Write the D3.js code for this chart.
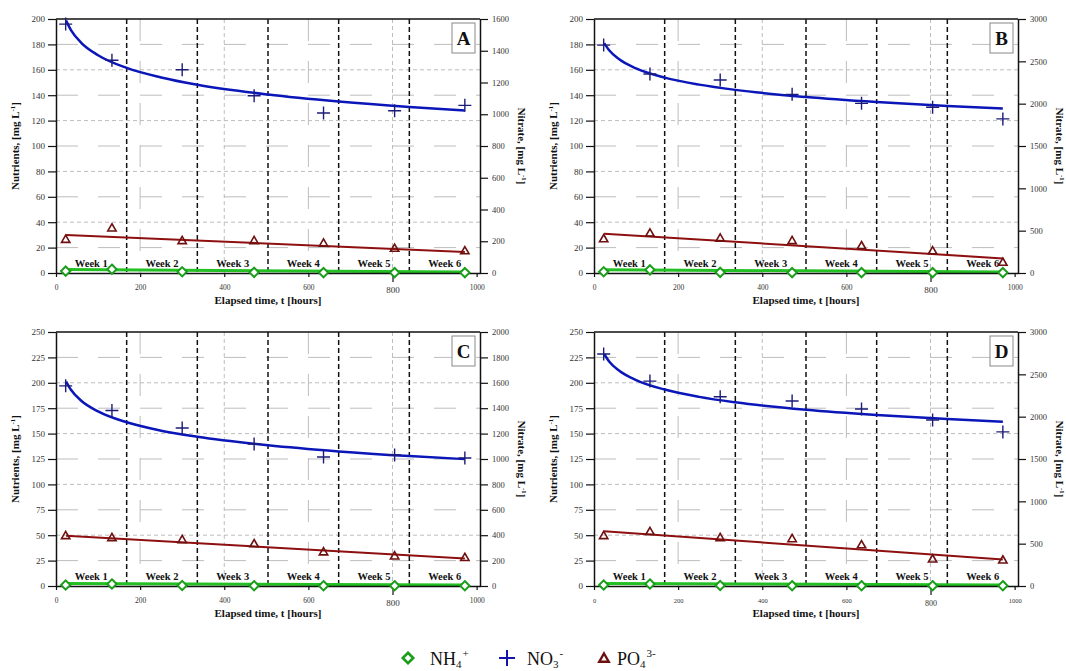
<!DOCTYPE html>
<html lang="en">
	<head>
		<meta charset="UTF-8">
		<title>Nutrients and nitrate over time</title>
		<script src="https://d3js.org/d3.v7.min.js"></script>
		<style>
			body { margin: 0; background: #fff; }
			text { font-family: "Liberation Serif", "Times New Roman", serif; }
		</style>
	</head>
	<body>
		<script>
			// sampling times and helper positions (hours)
			var sampleHours = [23, 133, 300, 471, 636, 805, 972];
			var trendHours = [24, 36, 60, 100, 168, 250, 336, 504, 672, 840, 972];
			var lineHours = [24, 972];
			var weekBounds = [168, 336, 504, 672, 840];
			var weekLabels = ['Week 1', 'Week 2', 'Week 3', 'Week 4', 'Week 5', 'Week 6'];
			var xTicks = [0, 200, 400, 600, 800, 1000];
			var panelLetters = ['A', 'B', 'C', 'D'];

			// axis ticks
			var leftTicksAB = [0, 20, 40, 60, 80, 100, 120, 140, 160, 180, 200];
			var leftTicksCD = [0, 25, 50, 75, 100, 125, 150, 175, 200, 225, 250];
			var rightTicksA = [0, 200, 400, 600, 800, 1000, 1200, 1400, 1600];
			var rightTicksB = [0, 500, 1000, 1500, 2000, 2500, 3000];
			var rightTicksC = [0, 200, 400, 600, 800, 1000, 1200, 1400, 1600, 1800, 2000];
			var rightTicksD = [0, 500, 1000, 1500, 2000, 2500, 3000];

			// nitrate (right axis), measured and fitted
			var nitrateA = [1568, 1340, 1280, 1117, 1008, 1022, 1056];
			var nitrateB = [2692, 2350, 2280, 2110, 2004, 1957, 1820];
			var nitrateC = [1576, 1382, 1244, 1118, 1016, 1032, 1008];
			var nitrateD = [2740, 2420, 2235, 2185, 2090, 1960, 1820];
			var nitrateTrendA = [1590, 1528, 1450, 1372, 1292, 1232, 1186, 1124, 1080, 1046, 1024];
			var nitrateTrendB = [2715, 2630, 2524, 2417, 2308, 2225, 2163, 2079, 2019, 1972, 1942];
			var nitrateTrendC = [1610, 1543, 1459, 1375, 1289, 1223, 1175, 1108, 1060, 1023, 999];
			var nitrateTrendD = [2740, 2652, 2542, 2432, 2320, 2234, 2170, 2082, 2020, 1972, 1941];

			// phosphate (left axis)
			var phosphateA = [26, 35, 25, 25, 23, 19, 17];
			var phosphateB = [26.5, 31, 27, 25, 21, 17, 8];
			var phosphateC = [49, 47, 45, 41, 33, 29, 27.5];
			var phosphateD = [49, 53, 47, 46, 40, 26, 25];
			var phosphateTrendA = [30, 16.5];
			var phosphateTrendB = [31, 11.5];
			var phosphateTrendC = [49.5, 27];
			var phosphateTrendD = [54, 26];

			// ammonium (left axis)
			var ammoniumA = [1.5, 3, 1, 0.5, 0.3, 0.3, 0.3];
			var ammoniumB = [1, 2.5, 0.5, 0.3, 0.3, 0.3, 0.3];
			var ammoniumC = [1, 2, 0.5, 0.3, 0.3, 0.3, 0.3];
			var ammoniumD = [1, 2, 0.5, 0.3, 0.3, 0.3, 0.3];
			var ammoniumTrendA = [2, 0];
			var ammoniumTrendB = [1.8, 0];
			var ammoniumTrendC = [1.5, 0];
			var ammoniumTrendD = [1.5, 0];

			var width = 1066, height = 671;
			var plotW = 424, plotH = 254;

			var colNitrate = '#1c1c78', colNitrateLine = '#0b16b8';
			var colPhos = '#6e1010', colPhosLine = '#8e0f0f';
			var colAmm = '#1a9e1a', colAmmLine = '#22c022';

			var svg = d3.select('body')
						.append('svg')
						.attr('width', width)
						.attr('height', height);

			var panels = [
				{ x0: 56, y0: 19, left: leftTicksAB, right: rightTicksA, no3: nitrateA, no3Fit: nitrateTrendA,
				  po4: phosphateA, po4Fit: phosphateTrendA, nh4: ammoniumA, nh4Fit: ammoniumTrendA, xFont: 7.5 },
				{ x0: 594, y0: 19, left: leftTicksAB, right: rightTicksB, no3: nitrateB, no3Fit: nitrateTrendB,
				  po4: phosphateB, po4Fit: phosphateTrendB, nh4: ammoniumB, nh4Fit: ammoniumTrendB, xFont: 7.5 },
				{ x0: 56, y0: 332, left: leftTicksCD, right: rightTicksC, no3: nitrateC, no3Fit: nitrateTrendC,
				  po4: phosphateC, po4Fit: phosphateTrendC, nh4: ammoniumC, nh4Fit: ammoniumTrendC, xFont: 7.5 },
				{ x0: 594, y0: 332, left: leftTicksCD, right: rightTicksD, no3: nitrateD, no3Fit: nitrateTrendD,
				  po4: phosphateD, po4Fit: phosphateTrendD, nh4: ammoniumD, nh4Fit: ammoniumTrendD, xFont: 6.5 }
			];

			var fmt = d3.format('d');

			function addUnitTitle(sel, label) {
				sel.append('tspan').text(label + ', [mg L');
				sel.append('tspan').attr('font-size', 7).attr('dy', -4).text('-1');
				sel.append('tspan').attr('dy', 4).text(']');
			}

			panels.forEach(function(p, i) {
				var x = d3.scaleLinear().domain([0, 1008]).range([p.x0, p.x0 + plotW]);
				var yL = d3.scaleLinear().domain([0, d3.max(p.left)]).range([p.y0 + plotH, p.y0]);
				var yR = d3.scaleLinear().domain([0, d3.max(p.right)]).range([p.y0 + plotH, p.y0]);
				var g = svg.append('g');

				// grid: every other left tick is fine dashed, the rest long dashed
				g.selectAll('.hgrid')
					.data(p.left.slice(1, -1))
					.enter().append('line')
						.attr('x1', p.x0).attr('x2', p.x0 + plotW)
						.attr('y1', function(d) { return yL(d); })
						.attr('y2', function(d) { return yL(d); })
						.attr('stroke', '#bdbdbd')
						.attr('stroke-width', 1)
						.attr('stroke-dasharray', function(d, j) { return j % 2 === 1 ? '4,3' : '22,20'; });

				g.selectAll('.vgrid')
					.data([200, 400, 600, 800])
					.enter().append('line')
						.attr('x1', function(d) { return x(d); })
						.attr('x2', function(d) { return x(d); })
						.attr('y1', p.y0).attr('y2', p.y0 + plotH)
						.attr('stroke', '#bdbdbd')
						.attr('stroke-width', 1)
						.attr('stroke-dasharray', function(d) { return d % 400 === 0 ? '4,3' : '22,20'; });

				// week boundaries
				g.selectAll('.week')
					.data(weekBounds)
					.enter().append('line')
						.attr('x1', function(d) { return x(d); })
						.attr('x2', function(d) { return x(d); })
						.attr('y1', p.y0).attr('y2', p.y0 + plotH)
						.attr('stroke', '#111')
						.attr('stroke-width', 1.5)
						.attr('stroke-dasharray', '5,3');

				g.selectAll('.weeklabel')
					.data(weekLabels)
					.enter().append('text')
						.attr('x', function(d, j) { return x(j * 168 + 84); })
						.attr('y', p.y0 + plotH - 6)
						.attr('text-anchor', 'middle')
						.attr('font-size', 10.5)
						.attr('font-weight', 'bold')
						.attr('fill', '#111')
						.text(function(d) { return d; });

				// trend lines
				var fitLine = d3.line()
								.x(function(d) { return x(d[0]); })
								.y(function(d) { return yR(d[1]); })
								.curve(d3.curveMonotoneX);

				g.append('path')
					.datum(d3.zip(trendHours, p.no3Fit))
					.attr('d', fitLine)
					.attr('fill', 'none')
					.attr('stroke', colNitrateLine)
					.attr('stroke-width', 2.5);

				g.append('path')
					.datum(d3.zip(lineHours, p.po4Fit))
					.attr('d', d3.line().x(function(d) { return x(d[0]); }).y(function(d) { return yL(d[1]); }))
					.attr('fill', 'none')
					.attr('stroke', colPhosLine)
					.attr('stroke-width', 2);

				g.append('path')
					.datum(d3.zip(lineHours, p.nh4Fit))
					.attr('d', d3.line().x(function(d) { return x(d[0]); }).y(function(d) { return yL(d[1]) - 1; }))
					.attr('fill', 'none')
					.attr('stroke', colAmmLine)
					.attr('stroke-width', 3);

				// axes
				var axL = g.append('g')
							.attr('transform', 'translate(' + p.x0 + ',0)')
							.call(d3.axisLeft(yL).tickValues(p.left).tickFormat(fmt).tickSize(8).tickSizeOuter(0).tickPadding(3));
				var axR = g.append('g')
							.attr('transform', 'translate(' + (p.x0 + plotW) + ',0)')
							.call(d3.axisRight(yR).tickValues(p.right).tickFormat(fmt).tickSize(8).tickSizeOuter(0).tickPadding(4));
				var axB = g.append('g')
							.attr('transform', 'translate(0,' + (p.y0 + plotH) + ')')
							.call(d3.axisBottom(x).tickValues(xTicks).tickFormat(fmt).tickSize(4).tickSizeOuter(0).tickPadding(8));

				[axL, axR, axB].forEach(function(ax) {
					ax.selectAll('path').attr('stroke', '#111').attr('stroke-width', 1.5);
					ax.selectAll('line').attr('stroke', '#111').attr('stroke-width', 1.2);
					ax.selectAll('text').attr('fill', '#333');
				});
				axL.selectAll('text').attr('font-size', 9);
				axR.selectAll('text').attr('font-size', 8.5);
				axB.selectAll('text').attr('font-size', p.xFont);
				// the 800 label sits a little larger and lower in the original
				axB.selectAll('.tick').filter(function(d) { return d === 800; })
					.call(function(t) {
						t.select('line').attr('y2', 9);
						t.select('text').attr('font-size', p.xFont + 1.5).attr('y', 14);
					});

				// top border
				g.append('line')
					.attr('x1', p.x0).attr('x2', p.x0 + plotW)
					.attr('y1', p.y0).attr('y2', p.y0)
					.attr('stroke', '#111').attr('stroke-width', 1.5);

				// markers
				g.selectAll('.nh4')
					.data(d3.zip(sampleHours, p.nh4))
					.enter().append('path')
						.attr('d', d3.symbol().type(d3.symbolDiamond2).size(55))
						.attr('transform', function(d) { return 'translate(' + x(d[0]) + ',' + yL(d[1]) + ')'; })
						.attr('fill', '#fff')
						.attr('stroke', colAmm)
						.attr('stroke-width', 2);

				g.selectAll('.po4')
					.data(d3.zip(sampleHours, p.po4))
					.enter().append('path')
						.attr('d', d3.symbol().type(d3.symbolTriangle2).size(50))
						.attr('transform', function(d) { return 'translate(' + x(d[0]) + ',' + yL(d[1]) + ')'; })
						.attr('fill', 'none')
						.attr('stroke', colPhos)
						.attr('stroke-width', 1.6);

				g.selectAll('.no3')
					.data(d3.zip(sampleHours, p.no3))
					.enter().append('path')
						.attr('d', 'M-6.5,0H6.5M0,-6.5V6.5')
						.attr('transform', function(d) { return 'translate(' + x(d[0]) + ',' + yR(d[1]) + ')'; })
						.attr('fill', 'none')
						.attr('stroke', colNitrate)
						.attr('stroke-width', 1.4);

				// panel letter
				g.append('rect')
					.attr('x', p.x0 + plotW - 28).attr('y', p.y0 + 4)
					.attr('width', 23).attr('height', 30)
					.attr('fill', '#fff')
					.attr('stroke', '#888')
					.attr('stroke-width', 1);
				g.append('text')
					.attr('x', p.x0 + plotW - 16.5).attr('y', p.y0 + 26)
					.attr('text-anchor', 'middle')
					.attr('font-size', 19)
					.attr('font-weight', 'bold')
					.attr('fill', '#111')
					.text(panelLetters[i]);

				// axis titles
				g.append('text')
					.attr('transform', 'translate(' + (p.x0 + plotW / 2) + ',' + (p.y0 + plotH + 31) + ')')
					.attr('text-anchor', 'middle')
					.attr('font-size', 11)
					.attr('font-weight', 'bold')
					.attr('fill', '#111')
					.text('Elapsed time, t [hours]');

				g.append('text')
					.attr('transform', 'translate(' + (p.x0 - 37) + ',' + (p.y0 + plotH / 2) + ') rotate(-90)')
					.attr('text-anchor', 'middle')
					.attr('font-size', 11)
					.attr('font-weight', 'bold')
					.attr('fill', '#111')
					.call(addUnitTitle, 'Nutrients');

				g.append('text')
					.attr('transform', 'translate(' + (p.x0 + plotW + 38) + ',' + (p.y0 + plotH / 2) + ') rotate(90)')
					.attr('text-anchor', 'middle')
					.attr('font-size', 11)
					.attr('font-weight', 'bold')
					.attr('fill', '#111')
					.call(addUnitTitle, 'Nitrate');
			});

			// legend
			var legend = svg.append('g').attr('transform', 'translate(0,665)');

			legend.append('path')
				.attr('d', d3.symbol().type(d3.symbolDiamond2).size(70))
				.attr('transform', 'translate(408,-7)')
				.attr('fill', '#fff').attr('stroke', colAmm).attr('stroke-width', 2.6);
			legend.append('path')
				.attr('d', 'M-8,0H8M0,-8V8')
				.attr('transform', 'translate(507,-7)')
				.attr('stroke', '#1414a8').attr('stroke-width', 2);
			legend.append('path')
				.attr('d', d3.symbol().type(d3.symbolTriangle2).size(65))
				.attr('transform', 'translate(604,-6)')
				.attr('fill', 'none').attr('stroke', colPhos).attr('stroke-width', 2.4);

			var legendItems = [
				{ x: 430, base: 'NH', sub: '4', sup: '+' },
				{ x: 527, base: 'NO', sub: '3', sup: '-' },
				{ x: 617, base: 'PO', sub: '4', sup: '3-' }
			];
			legendItems.forEach(function(it) {
				var t = legend.append('text')
							.attr('x', it.x).attr('y', 0)
							.attr('font-size', 18)
							.attr('fill', '#111');
				t.append('tspan').text(it.base);
				t.append('tspan').attr('font-size', 11).attr('dy', 3).text(it.sub);
				t.append('tspan').attr('font-size', 11).attr('dy', -11).attr('dx', 1).text(it.sup);
			});
		</script>
	</body>
</html>
